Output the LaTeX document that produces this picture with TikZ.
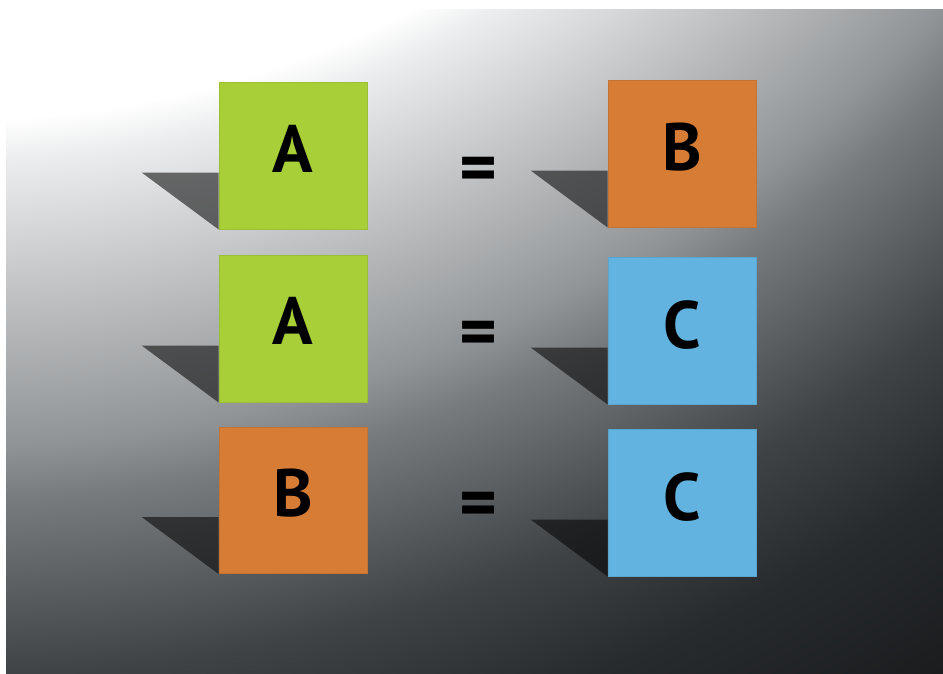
\documentclass[tikz,border=0pt]{standalone}
\usepackage{fontspec}
\setmainfont{PT Sans}

% backdrop greys, light to dark
\definecolor{bgB}{RGB}{236,237,238}
\definecolor{bgC}{RGB}{195,197,199}
\definecolor{bgD}{RGB}{145,148,150}
\definecolor{bgE}{RGB}{120,123,126}
\definecolor{bgF}{RGB}{88,91,94}
\definecolor{bgG}{RGB}{64,67,70}
\definecolor{bgH}{RGB}{40,43,46}
\definecolor{bgI}{RGB}{26,28,30}

\definecolor{sqgreen}{RGB}{168,207,56}
\definecolor{sqorange}{RGB}{215,124,53}
\definecolor{sqblue}{RGB}{98,179,223}

% radial ramp; 25bp corresponds to the radius of the shaded disc
\pgfdeclareradialshading{backdrop}{\pgfpoint{0bp}{0bp}}{%
  color(0bp)=(white);
  color(12.75bp)=(white);
  color(13.25bp)=(bgB);
  color(14.81bp)=(bgC);
  color(16.81bp)=(bgD);
  color(17.5bp)=(bgE);
  color(18.75bp)=(bgF);
  color(19.69bp)=(bgG);
  color(21.25bp)=(bgH);
  color(23.25bp)=(bgI);
  color(50bp)=(bgI)}

\begin{document}
\begin{tikzpicture}[x=1pt,y=-1pt,
  tile/.style={minimum width=148pt,minimum height=146.5pt,inner sep=0pt,
    line width=0.6pt},
  greentile/.style={tile,fill=sqgreen,draw=sqgreen!92!black},
  orangetile/.style={tile,fill=sqorange,draw=sqorange!92!black},
  bluetile/.style={tile,fill=sqblue,draw=sqblue!92!black},
  letter/.style={anchor=base,inner sep=0pt,text=black,
    font=\fontsize{67}{67}\selectfont\bfseries},
  eqsign/.style={inner sep=0pt,text=black,
    font=\fontsize{72}{72}\selectfont\bfseries},
  dropshadow/.style={fill=black,fill opacity=0.55}]

\useasboundingbox (0,0) rectangle (943,674);

% graded backdrop, lit from the upper left
\begin{scope}
  \clip (6,10) rectangle (943,674);
  \shade[shading=backdrop] (-50,-900) circle[radius=2000];
\end{scope}

% tiles
\node[greentile]  (L1) at (293,156)   {};
\node[greentile]  (L2) at (293,329)   {};
\node[orangetile] (L3) at (293,500.5) {};
\node[orangetile] (R1) at (682,154)   {};
\node[bluetile]   (R2) at (682,331)   {};
\node[bluetile]   (R3) at (682,503)   {};

% cast shadows to the left of each tile
\foreach \t in {L1,L2,L3,R1,R2,R3}{
  \fill[dropshadow] (\t.south west) -- ++(0,-57) -- ++(-77,0) -- cycle;
}

% letters
\node[letter] (tL1) at (293,173)   {A};
\node[letter] (tL2) at (293,344)   {A};
\node[letter] (tL3) at (293,516.5) {B};
\node[letter] (tR1) at (682,171)   {B};
\node[letter] (tR2) at (682,348.5) {C};
\node[letter] (tR3) at (682,520)   {C};

% equals signs
\node[eqsign] (e1) at (478,175.3) {=};
\node[eqsign] (e2) at (478,338.5) {=};
\node[eqsign] (e3) at (478,510)   {=};
\end{tikzpicture}
\end{document}
